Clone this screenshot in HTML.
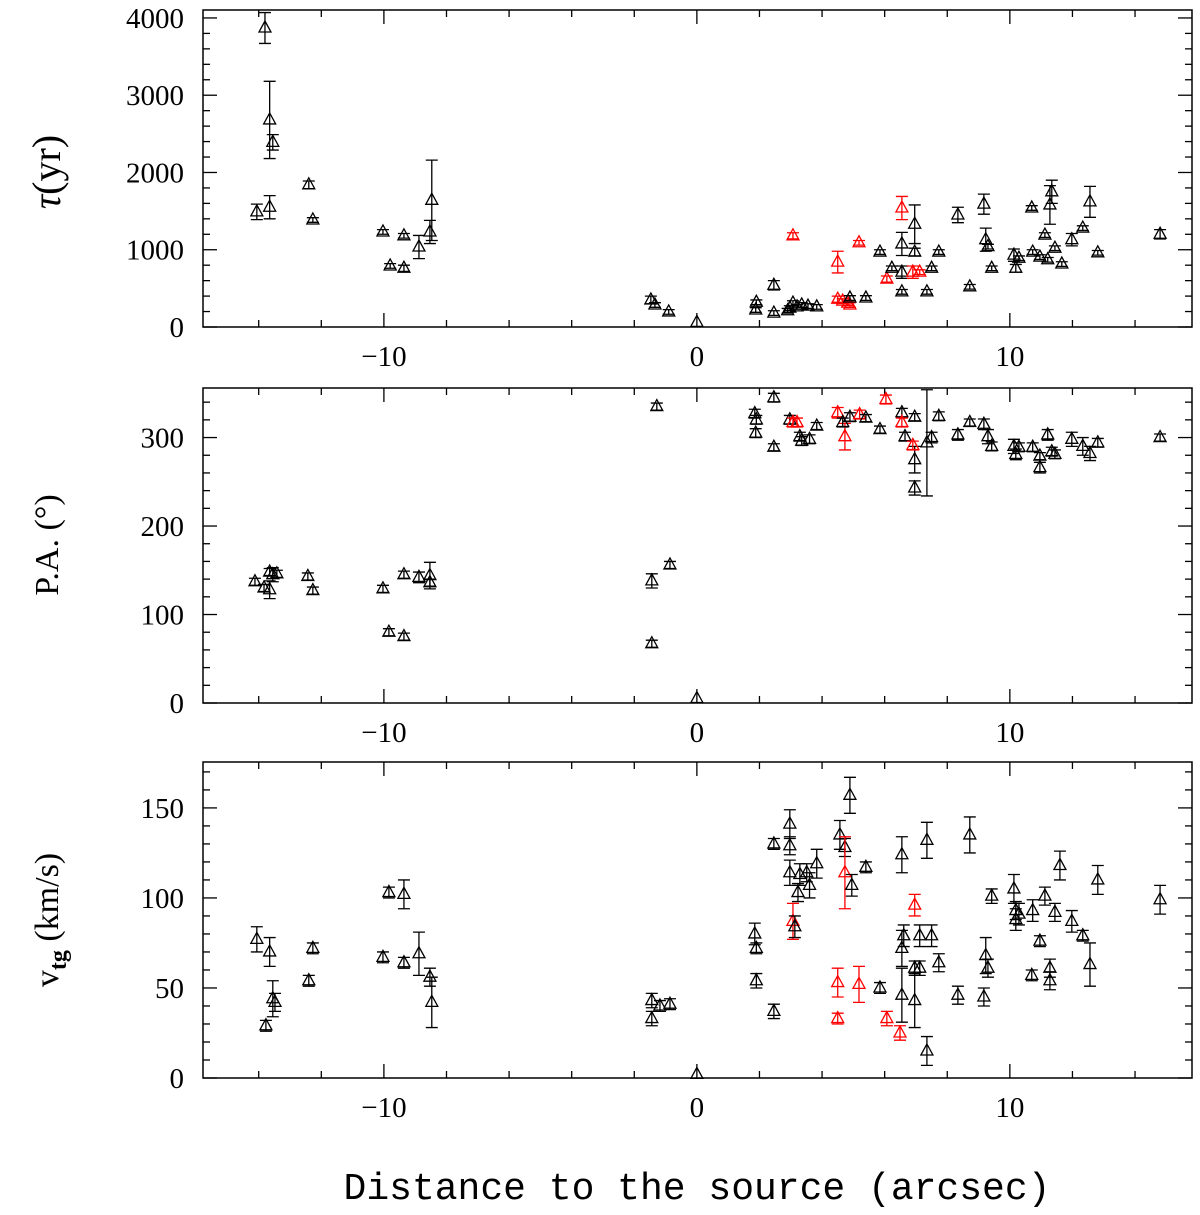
<!DOCTYPE html>
<html><head><meta charset="utf-8"><style>
body{margin:0;background:#fff}
svg{display:block}
text{font-family:"Liberation Serif",serif;fill:#000}
</style></head><body>
<svg id="chart" width="1200" height="1215" viewBox="0 0 1200 1215" xmlns="http://www.w3.org/2000/svg"></svg>
<script>
// Panel 1: tau (yr)
const tauX=[-13.8,-13.65,-13.55,-14.06,-13.65,-12.4,-12.27,-10.03,-9.8,-9.36,-9.36,-8.88,-8.53,-8.47,-1.47,-1.34,-0.9,0,1.88,1.9,2.46,2.46,2.9,2.97,3.07,3.2,3.35,3.55,3.83,3.07,4.5,4.5,4.66,4.82,4.89,4.89,5.4,5.18,5.85,6.07,6.23,6.55,6.55,6.55,6.55,6.9,6.96,6.96,7.12,7.35,7.5,7.73,8.34,8.72,9.17,9.23,9.3,9.42,10.13,10.19,10.29,10.7,10.73,10.96,11.12,11.21,11.28,11.34,11.44,11.66,11.98,12.33,12.56,12.81,14.8];
const tauY=[3870,2680,2390,1490,1550,1840,1385,1230,790,760,1180,1035,1230,1640,350,285,195,60,220,320,540,180,210,245,310,260,285,270,260,1180,840,360,335,310,285,375,375,1090,970,620,760,1540,455,1075,710,710,1330,970,710,455,760,970,1450,520,1590,1130,1040,760,930,760,890,1540,970,905,1190,870,1580,1750,1020,815,1130,1280,1620,960,1200];
const tauE=[200,500,100,100,150,50,30,30,30,40,30,150,150,520,50,30,30,0,30,30,60,30,30,30,30,30,30,30,30,40,140,40,30,30,30,30,30,30,30,40,30,150,30,150,80,80,250,50,30,30,30,30,100,30,130,150,30,30,80,50,30,30,30,30,30,30,250,150,30,30,80,30,200,30,60];
const tauRed=[0,0,0,0,0,0,0,0,0,0,0,0,0,0,0,0,0,0,0,0,0,0,0,0,0,0,0,0,0,1,1,1,1,1,1,0,0,1,0,1,0,1,0,0,0,1,0,0,1,0,0,0,0,0,0,0,0,0,0,0,0,0,0,0,0,0,0,0,0,0,0,0,0,0,0];
// Panel 2: P.A. (deg)
const paX=[-14.12,-13.83,-13.65,-13.55,-13.65,-13.42,-12.43,-12.27,-10.03,-9.84,-9.36,-9.36,-8.88,-8.53,-8.53,-1.44,-1.28,-0.86,-1.44,0,1.85,1.88,1.9,2.46,2.46,2.97,3.07,3.2,3.29,3.35,3.6,3.83,4.5,4.73,4.66,4.89,5.2,5.4,5.85,6.04,6.55,6.55,6.65,6.96,6.96,6.96,6.9,7.35,7.5,7.73,8.34,8.72,9.17,9.3,9.42,10.13,10.19,10.29,10.73,10.96,11.21,11.34,11.44,11.98,12.33,12.56,12.81,10.96,14.8];
const paY=[137,130,148,145,128,146,143,127,129,80,75,145,142,144,136,138,335,156,67,5,327,305,320,345,289,320,317,317,301,296,298,313,328,301,317,323,326,322,309,343,328,317,301,323,275,243,291,294,300,324,303,317,315,301,290,290,281,289,289,279,303,284,281,298,290,282,294,266,300];
const paE=[4,4,4,8,10,4,4,4,4,4,4,4,6,15,4,8,4,4,4,0,5,5,5,5,4,5,5,5,5,5,5,4,6,15,5,5,5,4,4,5,5,5,5,4,15,8,5,60,6,5,6,4,6,8,5,8,6,5,5,4,6,5,5,8,10,8,5,6,4];
const paRed=[0,0,0,0,0,0,0,0,0,0,0,0,0,0,0,0,0,0,0,0,0,0,0,0,0,0,1,1,0,0,0,0,1,1,0,0,1,0,0,1,0,1,0,0,0,0,1,0,0,0,0,0,0,0,0,0,0,0,0,0,0,0,0,0,0,0,0,0,0];
// Panel 3: v_tg (km/s)
const vX=[-14.06,-13.77,-13.65,-13.55,-13.48,-12.4,-12.27,-10.03,-9.84,-9.36,-9.36,-8.88,-8.53,-8.47,-1.44,-1.44,-1.18,-0.86,0,1.85,1.9,1.9,2.46,2.46,2.97,2.97,2.97,3.07,3.13,3.23,3.29,3.51,3.6,3.83,4.57,4.5,4.5,4.73,4.73,4.89,4.95,5.18,5.4,5.85,6.07,6.49,6.55,6.55,6.55,6.61,6.96,6.96,6.96,7.12,7.12,7.35,7.35,7.5,7.73,8.34,8.72,9.17,9.23,9.3,9.42,10.13,10.19,10.19,10.29,10.7,10.73,10.96,11.12,11.28,11.28,11.44,11.6,11.98,12.33,12.56,12.81,14.8];
const vY=[77,29,70,44,42,54,72,67,103,64,102,69,56,42,33,43,40,41,2,80,72,54,37,130,141,129,114,87,84,103,113,114,107,119,135,33,53,128,114,157,107,52,117,50,33,25,72,46,124,79,96,61,43,61,79,132,15,79,64,46,135,45,68,61,101,105,93,88,91,57,93,76,101,61,54,92,118,87,79,63,110,99];
const vE=[7,3,8,10,5,3,3,3,3,3,8,12,5,14,4,4,3,3,0,6,3,4,4,3,8,5,7,10,6,5,6,5,7,8,8,3,8,5,20,10,6,10,3,3,4,4,10,15,10,6,6,4,15,4,6,10,8,6,5,5,10,5,10,5,4,8,5,6,6,3,6,3,5,5,5,5,8,6,3,12,8,8];
const vRed=[0,0,0,0,0,0,0,0,0,0,0,0,0,0,0,0,0,0,0,0,0,0,0,0,0,0,0,1,0,0,0,0,0,0,0,1,1,0,1,0,0,1,0,0,1,1,0,0,0,0,1,0,0,0,0,0,0,0,0,0,0,0,0,0,0,0,0,0,0,0,0,0,0,0,0,0,0,0,0,0,0,0];
const xTicks=[-10,0,10];
const xTickLabels=["\u221210","0","10"];

const NS="http://www.w3.org/2000/svg";
const svg=document.getElementById('chart');
const X0=203,X1=1192,XMIN=-15.78,XMAX=15.82;
const sx=v=>X0+(v-XMIN)/(XMAX-XMIN)*(X1-X0);
function mk(tag,at,parent){const e=document.createElementNS(NS,tag);for(const k in at)e.setAttribute(k,at[k]);(parent||svg).appendChild(e);return e;}

const panels=[
 {name:'tau',top:10,bot:327,ymax:4103,major:1000,minor:200,ticks:[0,1000,2000,3000,4000],xs:tauX,ys:tauY,es:tauE,rs:tauRed},
 {name:'pa',top:388,bot:703,ymax:356,major:100,minor:20,ticks:[0,100,200,300],xs:paX,ys:paY,es:paE,rs:paRed},
 {name:'vtg',top:762,bot:1078,ymax:175.5,major:50,minor:10,ticks:[0,50,100,150],xs:vX,ys:vY,es:vE,rs:vRed}
];
panels.forEach(p=>{
 const g=mk('g',{});
 
 
 const sy=v=>p.bot-v/p.ymax*(p.bot-p.top);
 const fr=mk('rect',{x:X0,y:p.top,width:X1-X0,height:p.bot-p.top,fill:'none',stroke:'#000','stroke-width':1.5},g);
 
 
 for(let v=-14;v<=15;v+=2){
  const L=(v%10===0)?14:7,x=sx(v);
  mk('line',{x1:x,x2:x,y1:p.bot,y2:p.bot-L,stroke:'#000','stroke-width':1.3},g);
  mk('line',{x1:x,x2:x,y1:p.top,y2:p.top+L,stroke:'#000','stroke-width':1.3},g);
 }
 xTicks.forEach((v,i)=>{
  const t=mk('text',{x:sx(v),y:p.bot+39,'text-anchor':'middle','font-size':29},g);
  t.textContent=xTickLabels[i];
  
  
 });
 for(let v=0;v<=p.ymax;v+=p.minor){
  const L=(Math.abs(v/p.major-Math.round(v/p.major))<1e-6)?14:7,y=sy(v);
  mk('line',{x1:X0,x2:X0+L,y1:y,y2:y,stroke:'#000','stroke-width':1.3},g);
  mk('line',{x1:X1,x2:X1-L,y1:y,y2:y,stroke:'#000','stroke-width':1.3},g);
 }
 p.ticks.forEach(v=>{
  const t=mk('text',{x:184,y:sy(v)+10,'text-anchor':'end','font-size':29},g);
  t.textContent=String(v);
  
  
 });
 p.xs.forEach((xv,i)=>{
  const col=p.rs[i]?'#f00':'#000';
  const x=sx(xv),y=sy(p.ys[i]);
  const e=p.es[i];
  if(e>0){
   const y1=sy(p.ys[i]+e),y2=sy(p.ys[i]-e);
   mk('path',{d:`M${x},${y1}V${y2}M${x-6},${y1}H${x+6}M${x-6},${y2}H${x+6}`,stroke:col,'stroke-width':1.3,fill:'none'},g);
  }
  const tri=mk('path',{d:`M${x-6},${y+4}L${x},${y-7}L${x+6},${y+4}Z`,stroke:col,'stroke-width':1.3,fill:'none'},g);
  
  
 });
});
</script>
<svg style="position:absolute;left:0;top:0" width="1200" height="1215">
 <text transform="translate(60,172) rotate(-90)" text-anchor="middle" style="font-size:40px"><tspan font-style="italic">τ</tspan>(yr)</text>
 <text transform="translate(58,545) rotate(-90)" text-anchor="middle" style="font-size:34px">P.A. (°)</text>
 <text transform="translate(58,920) rotate(-90)" text-anchor="middle" style="font-size:34px">v<tspan style="font-size:24px;font-weight:bold" dy="8">tg</tspan><tspan dy="-8"> (km/s)</tspan></text>
 <text x="697" y="1199" text-anchor="middle" style="font-size:38px;font-family:'Liberation Mono',monospace">Distance to the source (arcsec)</text>
</svg>
</body></html>
